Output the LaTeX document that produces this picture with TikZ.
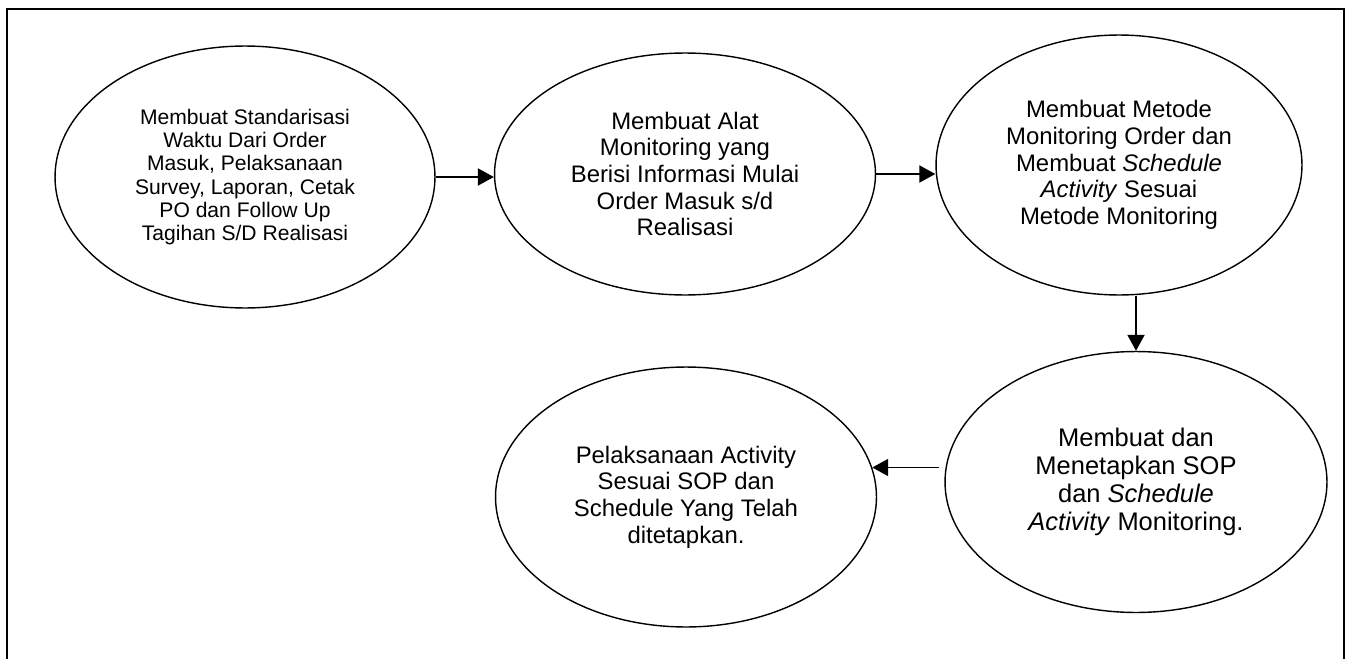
\documentclass[tikz,border=0pt]{standalone}
\usepackage{fontspec}
\setmainfont{Liberation Sans}
\usetikzlibrary{arrows.meta, shapes.geometric}

\begin{document}
\begin{tikzpicture}[x=0.02cm, y=-0.02cm, >={Triangle[length=0.32cm, width=0.34cm]}, line width=0.8pt,
  stage/.style={ellipse, draw, line width=0.8pt, inner sep=0pt, align=center,
    font=\fontsize{13.6}{15.2}\selectfont},
  flow/.style={->, line width=1.1pt}]
  \useasboundingbox (0,0) rectangle (1349,659);
  % bingkai luar, terbuka di bawah
  \draw[line width=1.2pt] (7,659) -- (7,9) -- (1344,9) -- (1344,659);
  % tahapan
  \node[stage, minimum width=7.6cm, minimum height=5.24cm, font=\fontsize{12}{13.3}\selectfont] (s1) at (245,177)
    {Membuat Standarisasi\\Waktu Dari Order\\Masuk, Pelaksanaan\\Survey, Laporan, Cetak\\PO dan Follow Up\\Tagihan S/D Realisasi};
  \node[stage, minimum width=7.62cm, minimum height=4.84cm] (s2) at (685,174)
    {Membuat Alat\\Monitoring yang\\Berisi Informasi Mulai\\Order Masuk s/d\\Realisasi};
  \node[stage, minimum width=7.32cm, minimum height=5.2cm] (s3) at (1119,165)
    {Membuat Metode\\Monitoring Order dan\\Membuat \textit{Schedule}\\\textit{Activity} Sesuai\\Metode Monitoring};
  \node[stage, minimum width=7.64cm, minimum height=5.22cm, font=\fontsize{14.5}{16}\selectfont] (s4) at (1136,482)
    {Membuat dan\\Menetapkan SOP\\dan \textit{Schedule}\\\textit{Activity} Monitoring.};
  \node[stage, minimum width=7.62cm, minimum height=5.2cm] (s5) at (686,497)
    {Pelaksanaan Activity\\Sesuai SOP dan\\Schedule Yang Telah\\ditetapkan.};
  % alur
  \draw[flow] (s1.east) -- (s1.east -| s2.west);
  \draw[flow] (s2.east) -- (s2.east -| s3.west);
  \draw[flow] (s4.north |- s3.south) -- (s4.north);
  \draw[flow] ([xshift=-0.1cm]s4.west |- s5.9) -- (s5.9);
\end{tikzpicture}
\end{document}
